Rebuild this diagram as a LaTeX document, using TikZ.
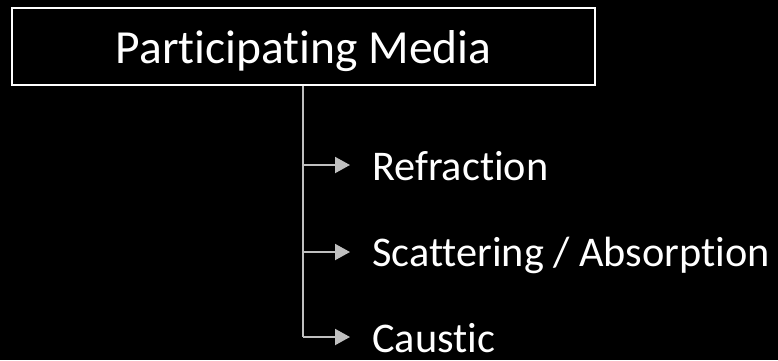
\documentclass[tikz,border=0pt]{standalone}
\usepackage{fontspec}
\setmainfont{Carlito}[Ligatures=NoCommon]
\usetikzlibrary{arrows.meta}
\definecolor{conn}{RGB}{191,191,191}
\begin{document}
\begin{tikzpicture}[x=1pt,y=-1pt,
  lbl/.style={text=white,font=\fontsize{42.3}{48}\selectfont,inner sep=0pt,text depth=0pt,anchor=base west},
  conarrow/.style={draw=conn,line width=2pt,-{Triangle[length=15pt,width=16pt]}}]
\fill[black] (0,0) rectangle (778,360);
\useasboundingbox (0,0) rectangle (778,360);
\node[draw=white,line width=1.5pt,minimum width=583pt,minimum height=77pt,inner sep=0pt] (top) at (303.5,46.5) {};
\node[text=white,font=\fontsize{47.5}{54}\selectfont,inner sep=0pt,anchor=base] (title) at (303.5,63) {Participating Media};
\node[lbl] (r) at (372,180) {Refraction};
\node[lbl] (s) at (372,266) {Scattering / Absorption};
\node[lbl] (c) at (372,352) {Caustic};
\coordinate (b0) at (303,165);
\coordinate (b1) at (303,252);
\coordinate (b2) at (303,337);
\draw[draw=conn,line width=2pt] (top.south -| b0) -- (b2);
\draw[conarrow] (b0) -- (350,165);
\draw[conarrow] (b1) -- (350,252);
\draw[conarrow] (b2) -- (350,337);
\end{tikzpicture}
\end{document}
